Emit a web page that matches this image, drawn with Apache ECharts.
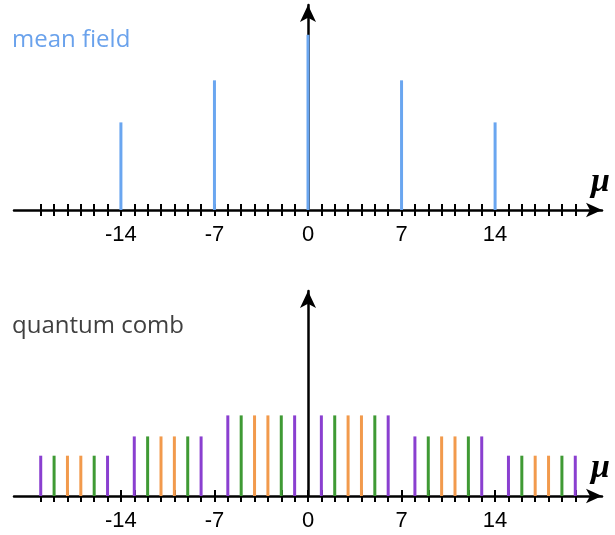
<!DOCTYPE html>
<html>
<head>
<meta charset="utf-8">
<script src="https://cdn.jsdelivr.net/npm/echarts@6/dist/echarts.min.js"></script>
<style>
  html, body { margin: 0; padding: 0; background: #ffffff; }
  #chart { width: 615px; height: 535px; }
</style>
</head>
<body>
<div id="chart"></div>
<script>
// Positions along the mu axis
const tickValues = [];
for (let k = -20; k <= 20; k++) tickValues.push(k);
const labelValues = [-14, -7, 0, 7, 14];

// Mean-field peaks (relative height)
const meanMu     = [-14, -7, 0, 7, 14];
const meanHeight = [0.50, 0.74, 1.00, 0.74, 0.50];

// Quantum comb lines, grouped by colour
const purpleMu     = [-20, -15, -13, -8, -6, -1, 1, 6, 8, 13, 15, 20];
const purpleHeight = [0.23, 0.23, 0.34, 0.34, 0.46, 0.46, 0.46, 0.46, 0.34, 0.34, 0.23, 0.23];
const greenMu      = [-19, -16, -12, -9, -5, -2, 2, 5, 9, 12, 16, 19];
const greenHeight  = [0.23, 0.23, 0.34, 0.34, 0.46, 0.46, 0.46, 0.46, 0.34, 0.34, 0.23, 0.23];
const orangeMu     = [-18, -17, -11, -10, -4, -3, 3, 4, 10, 11, 17, 18];
const orangeHeight = [0.23, 0.23, 0.34, 0.34, 0.46, 0.46, 0.46, 0.46, 0.34, 0.34, 0.23, 0.23];

const pairs = (xs, ys) => xs.map((x, i) => [x, ys[i]]);

const AXIS_COLOR = '#000000';
const X_MIN = -22, X_MAX = 22, Y_MAX = 1.17;

function mainXAxis(gridIndex) {
  return {
    type: 'value', gridIndex, min: X_MIN, max: X_MAX, interval: 1,
    position: 'bottom',
    axisLine: { onZero: false, symbol: ['none', 'arrow'], symbolSize: [11, 16],
                lineStyle: { color: AXIS_COLOR, width: 2.5 } },
    axisTick: { show: true, inside: false, length: 6, customValues: tickValues,
                lineStyle: { color: AXIS_COLOR, width: 2 } },
    axisLabel: { show: true, customValues: labelValues, margin: 14,
                 color: '#000', fontSize: 22, fontFamily: 'Liberation Sans' },
    splitLine: { show: false }
  };
}
function innerTickAxis(gridIndex) {
  return {
    type: 'value', gridIndex, min: X_MIN, max: X_MAX, interval: 1,
    position: 'bottom',
    axisLine: { show: false, onZero: false },
    axisTick: { show: true, inside: true, length: 6, customValues: tickValues,
                lineStyle: { color: AXIS_COLOR, width: 2 } },
    axisLabel: { show: false },
    splitLine: { show: false }
  };
}
function yAxis(gridIndex) {
  return {
    type: 'value', gridIndex, min: 0, max: Y_MAX,
    axisLine: { show: true, onZero: true, symbol: ['none', 'arrow'], symbolSize: [12, 17],
                lineStyle: { color: AXIS_COLOR, width: 2.5 } },
    axisTick: { show: false }, axisLabel: { show: false }, splitLine: { show: false }
  };
}

const chart = echarts.init(document.getElementById('chart'), null, { renderer: 'canvas' });
chart.setOption({
  animation: false,
  backgroundColor: '#ffffff',
  title: [
    { text: 'mean field', left: 7, top: 23,
      textStyle: { color: '#6aa2ec', fontSize: 24, fontWeight: 'normal', fontFamily: 'Open Sans' } },
    { text: 'quantum comb', left: 7, top: 309,
      textStyle: { color: '#404040', fontSize: 24, fontWeight: 'normal', fontFamily: 'Open Sans' } }
  ],
  grid: [
    { left: 14, width: 588, top: 5, height: 205 },
    { left: 14, width: 588, top: 291, height: 205 }
  ],
  xAxis: [mainXAxis(0), innerTickAxis(0), mainXAxis(1), innerTickAxis(1)],
  yAxis: [yAxis(0), yAxis(1)],
  graphic: [
    { type: 'text', left: 591, top: 165,
      style: { text: 'μ', fontSize: 34, fontStyle: 'italic', fontWeight: 'bold',
               fontFamily: 'Liberation Serif, serif', fill: '#000' } },
    { type: 'text', left: 591, top: 451,
      style: { text: 'μ', fontSize: 34, fontStyle: 'italic', fontWeight: 'bold',
               fontFamily: 'Liberation Serif, serif', fill: '#000' } }
  ],
  series: [
    { name: 'mean field', type: 'bar', xAxisIndex: 0, yAxisIndex: 0, barWidth: 3, z: 3,
      itemStyle: { color: '#6aa6f0' }, data: pairs(meanMu, meanHeight) },
    { name: 'purple', type: 'bar', xAxisIndex: 2, yAxisIndex: 1, barWidth: 3, barGap: '-100%', z: 3,
      itemStyle: { color: '#8a3fd0' }, data: pairs(purpleMu, purpleHeight) },
    { name: 'green', type: 'bar', xAxisIndex: 2, yAxisIndex: 1, barWidth: 3, barGap: '-100%', z: 3,
      itemStyle: { color: '#3f9a34' }, data: pairs(greenMu, greenHeight) },
    { name: 'orange', type: 'bar', xAxisIndex: 2, yAxisIndex: 1, barWidth: 3, barGap: '-100%', z: 3,
      itemStyle: { color: '#f29a4c' }, data: pairs(orangeMu, orangeHeight) }
  ]
});
</script>
</body>
</html>
